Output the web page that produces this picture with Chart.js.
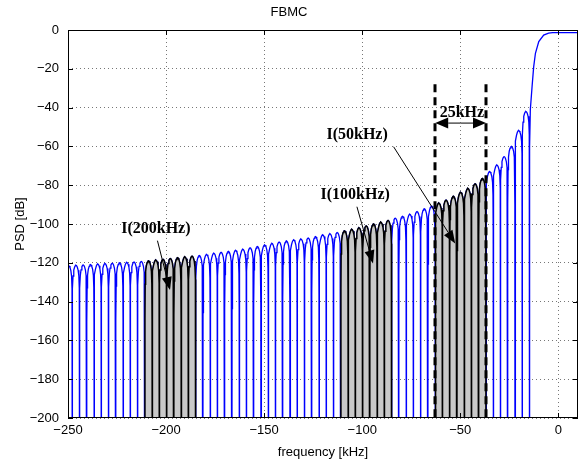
<!DOCTYPE html>
<html>
<head>
<meta charset="utf-8">
<script src="https://cdn.jsdelivr.net/npm/chart.js@4"></script>
<style>
  html, body { margin: 0; background: #fff; }
  #wrap { width: 583px; height: 466px; }
</style>
</head>
<body>
<div id="wrap"><canvas id="psd"></canvas></div>
<script>
/* FBMC power spectral density — sidelobes and interference bands */

// null frequencies between sidelobes (kHz)
const nullFreqs = [-251.5, -247.8, -244.1, -240.4, -236.7, -233.0, -229.3, -225.6, -221.9, -218.2,
  -214.5, -210.8, -207.1, -203.4, -199.7, -196.0, -192.3, -188.6, -184.9, -181.2,
  -177.5, -173.8, -170.1, -166.4, -162.7, -159.0, -155.3, -151.6, -147.9, -144.2,
  -140.5, -136.8, -133.1, -129.4, -125.7, -122.0, -118.3, -114.6, -110.9, -107.2,
  -103.5, -99.8, -96.1, -92.4, -88.7, -85.0, -81.3, -77.6, -73.9, -70.2,
  -66.5, -62.8, -59.1, -55.4, -51.7, -48.0, -44.3, -40.6, -36.9, -33.2,
  -29.5, -25.8, -22.1, -18.4, -14.7];

// peak level of each sidelobe (dB)
const lobePeaks = [-121.5, -121.3, -121.1, -120.9, -120.6, -120.4, -120.2, -120.0, -119.8, -119.6,
  -119.3, -119.0, -118.6, -118.2, -117.8, -117.4, -117.0, -116.6, -116.2, -115.7,
  -115.1, -114.6, -114.1, -113.6, -113.0, -112.3, -111.6, -110.8, -110.0, -109.3,
  -108.7, -108.2, -107.7, -107.2, -106.5, -105.6, -105.0, -104.4, -103.5, -102.8,
  -102.0, -101.0, -100.0, -99.1, -98.2, -97.0, -96.0, -95.0, -93.6, -92.1,
  -90.7, -89.2, -87.7, -85.7, -83.7, -81.7, -79.3, -76.5, -73.0, -69.6,
  -65.3, -60.0, -51.8, -42.0];

// shape of one sidelobe: [position across lobe 0..1, dB below its peak]
const lobeShape = [[0.01, -30], [0.04, -12], [0.1, -5.5], [0.2, -2.5], [0.32, -0.9], [0.42, -0.2],
  [0.5, 0], [0.58, -0.2], [0.68, -0.9], [0.8, -2.5], [0.9, -5.5], [0.96, -12], [0.99, -30]];
const nullLevel = -300;

// main lobe (in-band) edge
const mainFreq = [-14.6, -14.3, -13.4, -12.6, -11.7, -10.0, -7.5, -5.0, -3.0, 10.0];
const mainDb   = [-60, -41, -29, -19, -12, -6, -2.6, -1.6, -1.4, -1.4];

// interference bands
const bandStart  = [-210.8, -110.9, -62.8];
const bandEnd    = [-184.9, -85.0, -36.9];
const bandLabels = ['I(200kHz)', 'I(100kHz)', 'I(50kHz)'];
const labelAt    = [[-205.2, -102.7], [-103.6, -85.0], [-102.6, -54.0]];
const arrowFrom  = [[-204.4, -108.6], [-102.7, -91.1], [-84.0, -60.2]];
const arrowTo    = [[-198.0, -134.0], [-94.5, -120.3], [-52.6, -110.0]];

// 25 kHz marker
const markerFreqs = [-62.8, -36.9];
const markerTop = -28;
const markerArrowDb = -48;
const markerLabel = '25kHz';
const markerLabelAt = [-49.2, -42.6];

const xTicks = { min: -250, max: 10, step: 50 };
const yTicks = { min: -200, max: 0, step: 20 };

function lobePoints(k) {
  const a = nullFreqs[k], w = nullFreqs[k + 1] - a;
  return lobeShape.map(([u, d]) => ({ x: a + u * w, y: lobePeaks[k] + d }))
    .concat([{ x: nullFreqs[k + 1], y: nullLevel }]);
}

const fullCurve = [{ x: nullFreqs[0], y: nullLevel }];
for (let k = 0; k < lobePeaks.length; k++) fullCurve.push(...lobePoints(k));
mainFreq.forEach((f, i) => fullCurve.push({ x: f, y: mainDb[i] }));

const bandSets = bandStart.map((s, b) => {
  const pts = [];
  for (let k = 0; k < lobePeaks.length; k++) {
    if (nullFreqs[k] >= s - 0.01 && nullFreqs[k + 1] <= bandEnd[b] + 0.01) {
      if (!pts.length) pts.push({ x: nullFreqs[k], y: nullLevel });
      pts.push(...lobePoints(k));
    }
  }
  return {
    data: pts, borderColor: '#000', borderWidth: 1.5, pointRadius: 0,
    fill: 'start', backgroundColor: '#c9c9c9', order: 0
  };
});

function drawArrow(ctx, x0, y0, x1, y1, lw, color, len, half) {
  const ang = Math.atan2(y1 - y0, x1 - x0);
  const bx = x1 - len * Math.cos(ang), by = y1 - len * Math.sin(ang);
  ctx.strokeStyle = color; ctx.lineWidth = lw; ctx.setLineDash([]);
  ctx.beginPath(); ctx.moveTo(x0, y0); ctx.lineTo(bx, by); ctx.stroke();
  ctx.fillStyle = '#000';
  ctx.beginPath();
  ctx.moveTo(x1, y1);
  ctx.lineTo(bx + half * Math.sin(ang), by - half * Math.cos(ang));
  ctx.lineTo(bx - half * Math.sin(ang), by + half * Math.cos(ang));
  ctx.closePath(); ctx.fill();
}

const overlay = {
  id: 'overlay',
  afterDatasetsDraw(chart) {
    const { ctx, chartArea: a, scales: { x, y } } = chart;
    ctx.save();
    ctx.beginPath(); ctx.rect(a.left, a.top, a.right - a.left, a.bottom - a.top); ctx.clip();

    // dashed band markers
    ctx.strokeStyle = '#000'; ctx.lineWidth = 3; ctx.setLineDash([8, 5]);
    markerFreqs.forEach(f => {
      const px = Math.round(x.getPixelForValue(f));
      ctx.beginPath(); ctx.moveTo(px, y.getPixelForValue(markerTop)); ctx.lineTo(px, a.bottom); ctx.stroke();
    });
    ctx.setLineDash([]);

    // 25 kHz double arrow
    const ay = y.getPixelForValue(markerArrowDb);
    const ax0 = x.getPixelForValue(markerFreqs[0]), ax1 = x.getPixelForValue(markerFreqs[1]);
    const mid = (ax0 + ax1) / 2;
    drawArrow(ctx, mid, ay, ax0, ay, 1.5, '#555', 13, 5.5);
    drawArrow(ctx, mid, ay, ax1, ay, 1.5, '#555', 13, 5.5);

    ctx.font = 'bold 16px "Liberation Serif", "Times New Roman", serif';
    ctx.fillStyle = '#000'; ctx.textAlign = 'center'; ctx.textBaseline = 'middle';
    ctx.fillText(markerLabel, x.getPixelForValue(markerLabelAt[0]), y.getPixelForValue(markerLabelAt[1]));

    bandLabels.forEach((t, i) => {
      ctx.fillText(t, x.getPixelForValue(labelAt[i][0]), y.getPixelForValue(labelAt[i][1]));
      drawArrow(ctx,
        x.getPixelForValue(arrowFrom[i][0]), y.getPixelForValue(arrowFrom[i][1]),
        x.getPixelForValue(arrowTo[i][0]), y.getPixelForValue(arrowTo[i][1]),
        1, '#000', 13, 5);
    });
    ctx.restore();

    // axes box and inward ticks
    ctx.save();
    ctx.strokeStyle = '#000'; ctx.lineWidth = 1; ctx.setLineDash([]);
    ctx.strokeRect(Math.round(a.left) + 0.5, Math.round(a.top) + 0.5,
      Math.round(a.right - a.left) - 1, Math.round(a.bottom - a.top) - 1);
    ctx.beginPath();
    x.ticks.forEach(t => {
      const px = Math.round(x.getPixelForValue(t.value)) + 0.5;
      ctx.moveTo(px, a.bottom); ctx.lineTo(px, a.bottom - 5);
      ctx.moveTo(px, a.top); ctx.lineTo(px, a.top + 5);
    });
    y.ticks.forEach(t => {
      const py = Math.round(y.getPixelForValue(t.value)) + 0.5;
      ctx.moveTo(a.left, py); ctx.lineTo(a.left + 5, py);
      ctx.moveTo(a.right, py); ctx.lineTo(a.right - 5, py);
    });
    ctx.stroke();
    ctx.restore();
  }
};

const axisFont = { family: '"Liberation Sans", Arial, sans-serif', size: 13 };
const minus = v => String(v).replace('-', '\u2212');

new Chart(document.getElementById('psd'), {
  type: 'line',
  data: {
    datasets: [
      { data: fullCurve, borderColor: '#0000ff', borderWidth: 1.3, pointRadius: 0, fill: false, order: 1 },
      ...bandSets
    ]
  },
  options: {
    responsive: true, maintainAspectRatio: false, animation: false,
    parsing: false,
    layout: { padding: { left: 0, right: 5, top: 0, bottom: 0 } },
    plugins: {
      legend: { display: false },
      tooltip: { enabled: false },
      title: { display: true, text: 'FBMC', color: '#000', font: { ...axisFont, weight: 'normal' },
               padding: { top: 5, bottom: 9.4 } }
    },
    scales: {
      x: {
        type: 'linear', min: xTicks.min, max: xTicks.max,
        grid: { color: '#777', lineWidth: 1, drawTicks: false },
        border: { display: false, dash: [1, 3] },
        ticks: { stepSize: xTicks.step, includeBounds: false, color: '#000', font: axisFont, padding: 5,
                 maxRotation: 0, callback: minus },
        title: { display: true, text: 'frequency [kHz]', color: '#000', font: axisFont, padding: { top: 0, bottom: 6 } },
        afterFit: s => { s.height = 48; }
      },
      y: {
        min: yTicks.min, max: yTicks.max,
        grid: { color: '#777', lineWidth: 1, drawTicks: false },
        border: { display: false, dash: [1, 3] },
        ticks: { stepSize: yTicks.step, color: '#000', font: axisFont, padding: 9, callback: minus },
        title: { display: true, text: 'PSD [dB]', color: '#000', font: axisFont, padding: { top: 13, bottom: 0 } },
        afterFit: s => { s.width = 68; }
      }
    }
  },
  plugins: [overlay]
});
</script>
</body>
</html>
